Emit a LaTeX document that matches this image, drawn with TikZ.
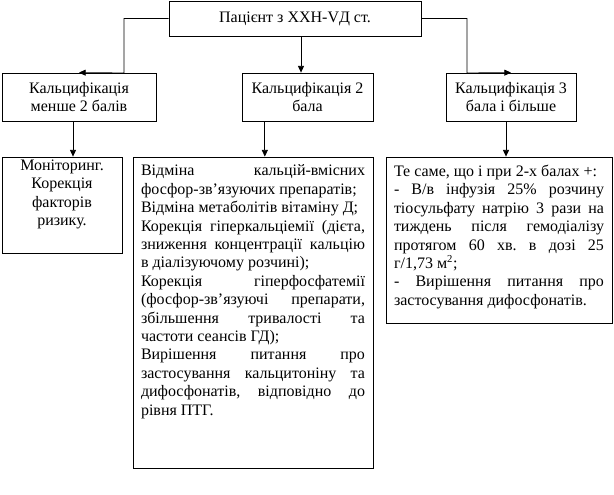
\documentclass[tikz,border=0pt]{standalone}
\usepackage{fontspec}
\setmainfont{Liberation Serif}
\frenchspacing
\usetikzlibrary{arrows.meta}
\tikzset{
	box/.style={draw, line width=0.6pt, inner sep=0pt, font=\fontsize{12pt}{13.8pt}\selectfont},
	arr/.style={line width=0.6pt, -{Triangle[length=5pt,width=4.5pt]}},
}
\newcommand{\boxtext}[3]{\parbox[t][#2][t]{#1}{\sloppy\frenchspacing\hyphenpenalty=10000\exhyphenpenalty=10000 #3}}

\begin{document}
\begin{tikzpicture}[x=0.75pt,y=-0.75pt]
	\useasboundingbox (0,0) rectangle (614,494);

	\node[box, minimum width=189pt, minimum height=26.25pt] (pat) at (295,18.5) {Пацієнт з ХХН-VД ст.};

	\node[box, align=center, minimum width=115.5pt, minimum height=36pt] (k1) at (79,97) {Кальцифікація\\менше 2 балів};
	\node[box, align=center, minimum width=98.25pt, minimum height=36pt] (k2) at (307.5,97) {Кальцифікація 2\\бала};
	\node[box, align=center, minimum width=97.5pt, minimum height=36pt] (k3) at (511,97) {Кальцифікація 3\\бала і більше};

	\node[box, inner xsep=3pt, inner ysep=2pt] (c1) at (62,205) {\boxtext{84pt}{68pt}{\centering Моніторинг.\\ Корекція\\ факторів\\ ризику.}};
	\node[box, inner sep=6pt] (c2) at (253,312.5) {\boxtext{168pt}{221.25pt}{%
		Відміна кальцій-вмісних\linebreak фосфор-зв’язуючих препаратів;\\
		Відміна метаболітів вітаміну Д;\\
		Корекція гіперкальціемії (дієта,\linebreak зниження концентрації кальцію\linebreak в діалізуючому розчині);\\
		Корекція гіперфосфатемії\linebreak (фосфор-зв’язуючі препарати,\linebreak збільшення тривалості та\linebreak частоти сеансів ГД);\\
		Вирішення питання про\linebreak застосування кальцитоніну та\linebreak дифосфонатів, відповідно до\linebreak рівня ПТГ.}};
	\node[box, inner sep=6pt] (c3) at (499,240) {\boxtext{157.5pt}{112.5pt}{%
		Те саме, що і при 2-х балах +:\\
		- В/в інфузія 25\% розчину\linebreak тіосульфату натрію 3 рази на\linebreak тиждень після гемодіалізу\linebreak протягом 60 хв. в дозі 25\linebreak г/1,73 м\textsuperscript{2};\\
		- Вирішення питання про\linebreak застосування дифосфонатів.}};

	\coordinate (l1) at (124,73);
	\coordinate (l3) at (467,73);

	\draw[arr] (pat.west) -| (l1) -- (k1.north);
	\draw[arr] (pat.east) -| (l3) -- (k3.north);
	\draw[arr] ([xshift=4.5pt]pat.south) -- ([xshift=4.5pt]pat.south |- k2.north);

	\draw[arr] ([xshift=-4.5pt]k1.south) -- ([xshift=-4.5pt]k1.south |- c1.north);
	\draw[arr] ([xshift=-32pt]k2.south) -- ([xshift=-32pt]k2.south |- c2.north);
	\draw[arr] ([xshift=-3.75pt]k3.south) -- ([xshift=-3.75pt]k3.south |- c3.north);
\end{tikzpicture}
\end{document}
